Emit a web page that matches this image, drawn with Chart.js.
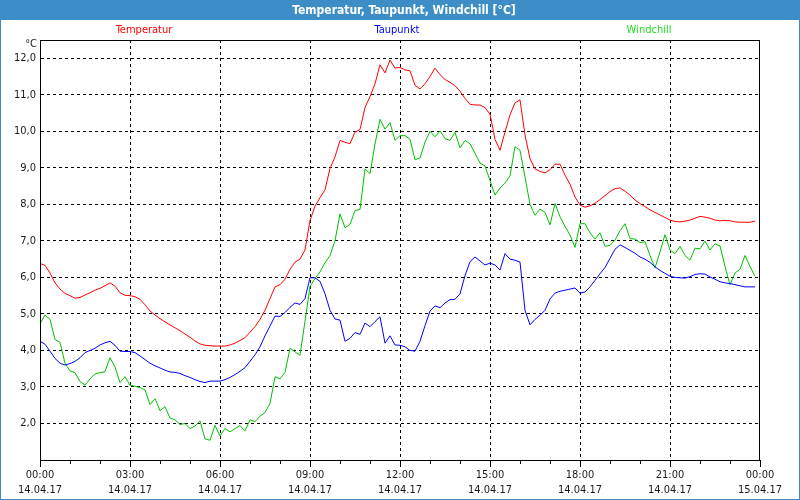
<!DOCTYPE html>
<html><head><meta charset="utf-8">
<script src="https://cdn.jsdelivr.net/npm/chart.js@4.4.1/dist/chart.umd.min.js"></script>
<style>html,body{margin:0;padding:0;background:#fff;overflow:hidden}#wrap{width:800px;height:500px;position:relative}</style>
</head><body><div id="wrap"><canvas id="c" width="800" height="500"></canvas></div>
<script>
const chartTitle = 'Temperatur, Taupunkt, Windchill [°C]';
const unitLabel = '°C';
const seriesNames = ['Temperatur', 'Taupunkt', 'Windchill'];
const tickTimes = ['00:00','03:00','06:00','09:00','12:00','15:00','18:00','21:00','00:00'];
const tickDates = ['14.04.17','14.04.17','14.04.17','14.04.17','14.04.17','14.04.17','14.04.17','14.04.17','15.04.17'];
const yTicks = [2,3,4,5,6,7,8,9,10,11,12];

const temperatur = [6.38,6.33,6.12,5.85,5.68,5.56,5.5,5.43,5.45,5.52,
5.58,5.65,5.7,5.77,5.85,5.76,5.58,5.51,5.5,5.47,
5.4,5.25,5.08,4.97,4.87,4.78,4.7,4.62,4.54,4.45,
4.36,4.26,4.18,4.14,4.13,4.12,4.12,4.12,4.15,4.2,
4.27,4.35,4.5,4.65,4.85,5.1,5.42,5.74,5.8,5.95,
6.22,6.42,6.5,6.75,7.56,7.95,8.18,8.4,8.98,9.3,
9.75,9.7,9.66,9.98,10.05,10.65,10.95,11.3,11.82,11.6,
11.95,11.73,11.75,11.68,11.66,11.26,11.16,11.3,11.5,11.73,
11.55,11.42,11.34,11.25,11.1,10.9,10.74,10.72,10.72,10.65,
10.47,9.78,9.48,9.98,10.45,10.78,10.86,9.9,9.25,8.97,
8.9,8.86,8.95,9.1,9.1,8.8,8.55,8.2,7.98,7.92,
7.96,8.03,8.13,8.24,8.35,8.43,8.45,8.36,8.25,8.12,
8.02,7.94,7.85,7.78,7.71,7.64,7.57,7.53,7.52,7.54,
7.57,7.62,7.67,7.65,7.62,7.57,7.55,7.56,7.55,7.52,
7.51,7.51,7.51,7.54];

const taupunkt = [4.25,4.17,3.98,3.78,3.65,3.6,3.64,3.7,3.8,3.94,
4.0,4.06,4.15,4.21,4.25,4.14,3.98,3.97,3.97,3.94,
3.85,3.75,3.65,3.58,3.52,3.46,3.41,3.4,3.37,3.31,
3.26,3.2,3.15,3.12,3.16,3.16,3.16,3.2,3.26,3.34,
3.43,3.53,3.7,3.88,4.1,4.4,4.67,4.94,4.93,5.04,
5.18,5.3,5.26,5.42,5.99,5.99,5.89,5.55,5.1,4.86,
4.83,4.25,4.33,4.49,4.44,4.75,4.65,4.79,4.92,4.2,
4.4,4.15,4.14,4.1,4.0,3.98,4.25,4.68,5.08,5.22,
5.17,5.3,5.39,5.4,5.55,6.05,6.43,6.56,6.45,6.34,
6.39,6.34,6.2,6.65,6.5,6.47,6.42,5.1,4.7,4.85,
4.96,5.1,5.41,5.57,5.62,5.65,5.68,5.71,5.57,5.6,
5.74,5.92,6.1,6.27,6.52,6.77,6.89,6.82,6.74,6.66,
6.56,6.5,6.41,6.29,6.19,6.11,6.03,6.0,5.99,5.98,
6.02,6.08,6.1,6.09,6.01,5.95,5.88,5.85,5.83,5.8,
5.77,5.74,5.74,5.74];

const windchill = [4.73,4.97,4.85,4.3,4.22,3.65,3.44,3.39,3.15,3.05,
3.22,3.36,3.39,3.42,3.8,3.55,3.12,3.28,3.05,3.02,
2.98,2.92,2.52,2.68,2.35,2.46,2.15,2.1,1.97,2.0,
1.86,1.93,2.07,1.58,1.54,1.95,1.66,1.86,1.77,1.86,
1.94,1.8,2.1,2.05,2.2,2.3,2.55,3.28,3.22,3.4,
4.06,3.96,3.87,4.8,5.75,5.97,6.15,6.4,6.6,7.0,
7.74,7.36,7.45,7.83,7.86,8.97,8.84,9.65,10.33,10.06,
10.24,9.75,9.88,9.88,9.78,9.22,9.27,9.7,10.0,9.85,
10.01,9.8,9.75,9.97,9.55,9.75,9.66,9.4,9.13,9.05,
8.65,8.25,8.45,8.58,8.78,9.58,9.48,8.75,8.0,7.7,
7.87,7.78,7.44,8.02,7.66,7.4,7.16,6.82,7.47,7.47,
7.22,7.05,7.22,6.85,6.88,7.02,7.28,7.47,7.06,7.05,
6.95,6.98,6.6,6.26,6.7,7.17,6.75,6.65,6.85,6.6,
6.47,6.8,6.78,6.99,6.75,6.92,6.86,6.3,5.8,6.12,
6.22,6.6,6.3,6.03];

// 10-minute time categories for 14.04.17 00:00 .. 15.04.17 00:00
const times = [];
for (let m = 0; m <= 1440; m += 10) {
  const h = Math.floor(m / 60) % 24, mm = m % 60;
  times.push(String(h).padStart(2,'0') + ':' + String(mm).padStart(2,'0'));
}

const FONT = "'Liberation Sans Narrow', 'DejaVu Sans Condensed', 'Liberation Sans', sans-serif";
const BAR = '#3d8ec6';
const lineColors = ['#ff0000', '#0000ff', '#00c000'];
const legendColors = ['#ff0000', '#0000ff', '#22dd22'];
const MAJOR = 18, MINOR = 6;

const decor = {
  id: 'decor',
  beforeDraw(chart) {
    const c = chart.ctx;
    c.save();
    c.fillStyle = '#ffffff';
    c.fillRect(0, 0, chart.width, chart.height);
    c.fillStyle = BAR;
    c.fillRect(0, 0, chart.width, 20);
    c.restore();
  },
  afterDraw(chart) {
    const c = chart.ctx, a = chart.chartArea, xs = chart.scales.x;
    c.save();
    // plot frame
    c.strokeStyle = '#000'; c.lineWidth = 1;
    c.strokeRect(Math.round(a.left) + 0.5, Math.round(a.top) + 0.5, Math.round(a.right - a.left) - 1, Math.round(a.bottom - a.top));
    // minor hour ticks
    c.beginPath();
    for (let i = 0; i < times.length; i += MINOR) {
      if (i % MAJOR === 0) continue;
      const x = Math.round(xs.getPixelForValue(i)) + 0.5;
      c.moveTo(x, a.bottom); c.lineTo(x, a.bottom + 4);
    }
    c.stroke();
    // outer frame
    c.strokeStyle = BAR;
    c.strokeRect(0.5, 0.5, chart.width - 1, chart.height - 1);
    // title
    c.fillStyle = '#ffffff';
    c.font = 'bold 12px ' + FONT;
    c.textAlign = 'center'; c.textBaseline = 'middle';
    c.fillText(chartTitle, chart.width / 2 + 4, 11);
    // legend
    c.font = '11px ' + FONT;
    const centers = [a.left + 104, a.left + 357, a.left + 609];
    chart.data.datasets.forEach((ds, i) => {
      c.fillStyle = legendColors[i];
      c.fillText(ds.label, centers[i], 30.5);
    });
    // unit
    c.fillStyle = '#1a1a1a';
    c.textAlign = 'right';
    c.fillText(unitLabel, a.left - 3, 44);
    c.restore();
  }
};

new Chart(document.getElementById('c'), {
  type: 'line',
  data: {
    labels: times,
    datasets: [
      { label: seriesNames[0], data: temperatur, borderColor: lineColors[0] },
      { label: seriesNames[1], data: taupunkt, borderColor: lineColors[1] },
      { label: seriesNames[2], data: windchill, borderColor: lineColors[2] }
    ]
  },
  options: {
    responsive: false,
    devicePixelRatio: 1,
    animation: false,
    datasets: { line: { borderWidth: 1, pointRadius: 0, tension: 0, fill: false } },
    layout: { padding: { top: 40, left: 0, right: 40, bottom: 0 } },
    plugins: { legend: { display: false }, title: { display: false }, tooltip: { enabled: false } },
    scales: {
      x: {
        type: 'category',
        offset: false,
        afterFit(s) { s.height = 40; },
        border: { display: true, color: '#000', width: 1, dash: [3, 3] },
        grid: {
          drawOnChartArea: true,
          color: (ctx) => (ctx.index % MAJOR === 0 && ctx.index !== 0 && ctx.index !== times.length - 1) ? '#000' : 'rgba(0,0,0,0)',
          tickColor: (ctx) => (ctx.index % MAJOR === 0) ? '#000' : 'rgba(0,0,0,0)',
          tickLength: 7,
          lineWidth: 1
        },
        ticks: {
          autoSkip: false, maxRotation: 0, minRotation: 0, padding: 0,
          color: '#1a1a1a',
          font: { family: FONT, size: 11, lineHeight: 1.4 },
          callback: (v, i) => (i % MAJOR === 0) ? [tickTimes[i / MAJOR], tickDates[i / MAJOR]] : ''
        }
      },
      y: {
        min: 1, max: 12.5,
        afterFit(s) { s.width = 40; },
        afterBuildTicks(s) { s.ticks = yTicks.map(v => ({ value: v })); },
        border: { display: true, color: '#000', width: 1, dash: [3, 3] },
        grid: { color: '#000', drawTicks: false, lineWidth: 1 },
        ticks: {
          padding: 4, color: '#1a1a1a',
          font: { family: FONT, size: 11 },
          callback: (v) => Number(v).toFixed(1).replace('.', ',')
        }
      }
    }
  },
  plugins: [decor]
});
</script></body></html>
